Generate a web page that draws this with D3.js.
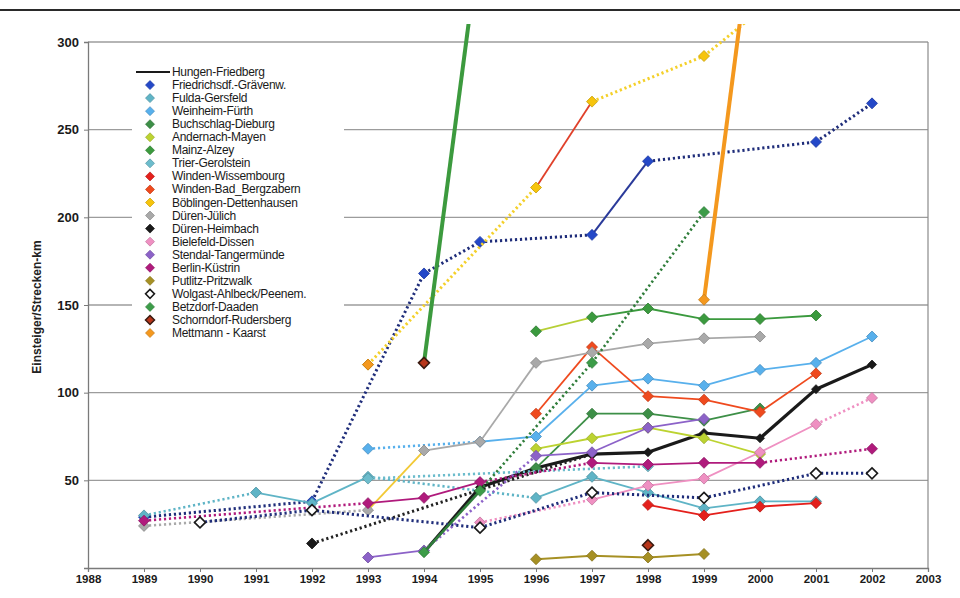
<!DOCTYPE html>
<html>
<head>
<meta charset="utf-8">
<script src="https://cdn.jsdelivr.net/npm/d3@7/dist/d3.min.js"></script>
<style>
  html, body { margin: 0; padding: 0; background: #fff; }
  svg { display: block; font-family: "Liberation Sans", Arial, sans-serif; }
</style>
</head>
<body>
<svg id="chart" width="960" height="598"></svg>
<script>
// Years on the x axis and the tick labels
const years = [1989, 1990, 1991, 1992, 1993, 1994, 1995, 1996, 1997, 1998, 1999, 2000, 2001, 2002];
const xTicks = [1988, 1989, 1990, 1991, 1992, 1993, 1994, 1995, 1996, 1997, 1998, 1999, 2000, 2001, 2002, 2003];
const yTicks = [50, 100, 150, 200, 250, 300];

// Boardings per route-km, one array per line (index = year, null = no value)
const n = null;
const hungenFriedberg      = [n, n, n, n, n, 9, 46, 57, 65, 66, 77, 74, 102, 116];
const friedrichsdorf       = [29, n, n, 38, n, 168, 186, n, 190, 232, n, n, 243, 265];
const fuldaGersfeld        = [30, n, 43, 37, 52, n, n, 40, 52, 43, 34, 38, 38, n];
const weinheimFuerth       = [n, n, n, n, 68, n, 72, 75, 104, 108, 104, 113, 117, 132];
const buchschlagDieburg    = [n, n, n, n, n, n, n, 57, 88, 88, 84, 91, n, n];
const andernachMayen       = [n, n, n, n, n, n, n, 68, 74, 80, 74, 65, n, n];
const mainzAlzey           = [n, n, n, n, n, n, n, 135, 143, 148, 142, 142, 144, n];
const trierGerolstein      = [n, n, n, n, 51, n, n, n, n, 58, n, n, n, n];
const windenWissembourg    = [n, n, n, n, n, n, n, n, n, 36, 30, 35, 37, n];
const windenBergzabern     = [n, n, n, n, n, n, n, 88, 126, 98, 96, 89, 111, n];
const boeblingen           = [n, n, n, n, 116, n, n, 217, 266, n, 292, 318, n, n];
const duerenJuelich        = [24, n, n, n, 33, 67, 72, 117, 123, 128, 131, 132, n, n];
const duerenHeimbach       = [n, n, n, 14, n, n, n, n, 65, n, n, n, n, n];
const bielefeldDissen      = [n, n, n, n, n, n, 26, n, 39, 47, 51, 66, 82, 97];
const stendalTangermuende  = [n, n, n, n, 6, 10, n, 64, 66, 80, 85, n, n, n];
const berlinKuestrin       = [27, n, n, n, 37, 40, 49, n, 60, 59, 60, 60, n, 68];
const putlitzPritzwalk     = [n, n, n, n, n, n, n, 5, 7, 6, 8, n, n, n];
const wolgastAhlbeck       = [n, 26, n, 33, n, n, 23, n, 43, n, 40, n, 54, 54];
const betzdorfDaaden       = [n, n, n, n, n, 9, 44, n, 117, n, 203, n, n, n];
const schorndorfRudersberg = [n, n, n, n, n, 117, 360, n, n, 13, n, n, n, n];
const mettmannKaarst       = [n, n, n, n, 116, n, n, n, n, n, 153, 400, n, n];

// Series table: name, values and drawing style
// bridge: gaps in the years are joined by a dotted line; seg: per-segment overrides keyed by start year
const series = [
  { name: "Hungen-Friedberg", values: hungenFriedberg, line: "#1a1a1a", width: 3.2, marker: "#1a1a1a", legendLine: true, bridge: true, r: 4.5 },
  { name: "Friedrichsdf.-Grävenw.", values: friedrichsdorf, line: "#1f2d7a", width: 3, dotted: true, marker: "#2448c8", bridge: true,
    seg: { 1997: { dotted: false, line: "#2a3a9a", width: 2 } } },
  { name: "Fulda-Gersfeld", values: fuldaGersfeld, line: "#5fb4c6", width: 1.8, marker: "#5fb4c6", bridge: true },
  { name: "Weinheim-Fürth", values: weinheimFuerth, line: "#58b0ec", width: 1.8, marker: "#58b0ec", bridge: true },
  { name: "Buchschlag-Dieburg", values: buchschlagDieburg, line: "#3d8f47", width: 1.8, marker: "#3d8f47", bridge: true },
  { name: "Andernach-Mayen", values: andernachMayen, line: "#bcd331", width: 1.8, marker: "#bcd331", bridge: true },
  { name: "Mainz-Alzey", values: mainzAlzey, line: "#3b9a3e", width: 1.8, marker: "#3b9a3e", bridge: true,
    seg: { 1996: { line: "#b6cf36" } } },
  { name: "Trier-Gerolstein", values: trierGerolstein, line: "#6cbccc", width: 2.6, dotted: true, marker: "#6cbccc", bridge: true },
  { name: "Winden-Wissembourg", values: windenWissembourg, line: "#e4201c", width: 1.8, marker: "#e4201c", bridge: true },
  { name: "Winden-Bad_Bergzabern", values: windenBergzabern, line: "#ef4a1e", width: 1.8, marker: "#ef4a1e", bridge: true },
  { name: "Böblingen-Dettenhausen", values: boeblingen, line: "#f4d02a", width: 3, dotted: true, marker: "#f6c40c", bridge: true,
    seg: { 1996: { dotted: false, line: "#e0402a", width: 1.8 } } },
  { name: "Düren-Jülich", values: duerenJuelich, line: "#a9a9a9", width: 1.8, marker: "#a9a9a9", bridge: true,
    seg: { 1993: { line: "#f2c935" } } },
  { name: "Düren-Heimbach", values: duerenHeimbach, line: "#222222", width: 3, dotted: true, marker: "#1a1a1a", bridge: true },
  { name: "Bielefeld-Dissen", values: bielefeldDissen, line: "#ef90c2", width: 1.8, marker: "#ef90c2", bridge: true,
    seg: { 2001: { dotted: true, width: 2.6 } } },
  { name: "Stendal-Tangermünde", values: stendalTangermuende, line: "#8c62c8", width: 1.8, marker: "#8c62c8", bridge: true },
  { name: "Berlin-Küstrin", values: berlinKuestrin, line: "#b01a7c", width: 1.8, marker: "#b01a7c", bridge: true },
  { name: "Putlitz-Pritzwalk", values: putlitzPritzwalk, line: "#a69024", width: 2, marker: "#a69024", bridge: true },
  { name: "Wolgast-Ahlbeck/Peenem.", values: wolgastAhlbeck, line: "#1f2d7a", width: 3, dotted: true, marker: "#ffffff", stroke: "#1a1a1a", bridge: true },
  { name: "Betzdorf-Daaden", values: betzdorfDaaden, line: "#2f7d3a", width: 2.6, dotted: true, marker: "#3c9c48", bridge: true,
    seg: { 1994: { dotted: false } } },
  { name: "Schorndorf-Rudersberg", values: schorndorfRudersberg, line: "#3c9a3e", width: 4, marker: "#b8361a", stroke: "#3a1a10", bridge: false },
  { name: "Mettmann - Kaarst", values: mettmannKaarst, line: "#f4981e", width: 4, marker: "#f4981e", bridge: false }
];

const svg = d3.select("#chart");
const margin = { left: 88, right: 32, top: 42, bottom: 30 };
const W = 960, H = 598;

const x = d3.scaleLinear().domain([1988, 2003]).range([margin.left, W - margin.right]);
const y = d3.scaleLinear().domain([0, 300]).range([H - margin.bottom, margin.top]);

// page rule at the top
svg.append("line")
  .attr("x1", 0).attr("x2", W).attr("y1", 10).attr("y2", 10)
  .attr("stroke", "#2a2a2a").attr("stroke-width", 2);

// horizontal gridlines
svg.append("g").selectAll("line").data(yTicks).join("line")
  .attr("x1", x(1988)).attr("x2", x(2003))
  .attr("y1", d => y(d)).attr("y2", d => y(d))
  .attr("stroke", "#9c9c9c").attr("stroke-width", 1.3);

// right frame edge
svg.append("line")
  .attr("x1", x(2003)).attr("x2", x(2003)).attr("y1", y(300)).attr("y2", y(0))
  .attr("stroke", "#8a8a8a").attr("stroke-width", 1.2);

// axes
const xAxis = svg.append("g")
  .attr("transform", `translate(0,${y(0)})`)
  .call(d3.axisBottom(x).tickValues(xTicks).tickFormat(d3.format("d")).tickSize(4).tickPadding(3));
const yAxis = svg.append("g")
  .attr("transform", `translate(${x(1988)},0)`)
  .call(d3.axisLeft(y).tickValues(yTicks).tickSize(4).tickPadding(5));
[xAxis, yAxis].forEach(g => {
  g.select(".domain").attr("stroke", "#7a7a7a").attr("stroke-width", 1.3);
  g.selectAll(".tick line").attr("stroke", "#7a7a7a");
  g.selectAll("text").attr("fill", "#1a1a1a").attr("font-weight", "bold")
    .attr("font-family", "'Liberation Sans', Arial, sans-serif");
});
xAxis.selectAll("text").attr("font-size", 11.5);
yAxis.selectAll("text").attr("font-size", 13);

svg.append("text")
  .attr("transform", `translate(41,${(y(0) + y(300)) / 2 + 2}) rotate(-90)`)
  .attr("text-anchor", "middle")
  .attr("font-size", 12).attr("font-weight", "bold").attr("fill", "#222")
  .text("Einsteiger/Strecken-km");

// legend backdrop hides the gridlines behind it
const legendX = 136, legendY = 72, legendStep = 13.05;
svg.append("rect")
  .attr("x", legendX - 4).attr("y", legendY - 12)
  .attr("width", 212).attr("height", legendStep * series.length + 12)
  .attr("fill", "#fff");

// plotting clip
svg.append("clipPath").attr("id", "plotClip")
  .append("rect").attr("x", x(1988)).attr("y", 24)
  .attr("width", x(2003) - x(1988)).attr("height", y(0) - 24);

const diamond = r => `M0,${-r}L${r},0L0,${r}L${-r},0Z`;
const dotDash = "2.2,2.8";

const plot = svg.append("g").attr("clip-path", "url(#plotClip)");

series.forEach(s => {
  const pts = years.map((yr, i) => ({ yr, v: s.values[i] })).filter(p => p.v !== null);
  const segs = [];
  for (let i = 0; i < pts.length - 1; i++) {
    const a = pts[i], b = pts[i + 1];
    const gap = b.yr - a.yr > 1;
    if (gap && !s.bridge) continue;
    const o = (s.seg && s.seg[a.yr]) || {};
    segs.push({
      a, b,
      line: o.line || s.line,
      width: o.width || s.width,
      dotted: o.dotted !== undefined ? o.dotted : (s.dotted || gap)
    });
  }
  const g = plot.append("g");
  g.selectAll("line").data(segs).join("line")
    .attr("x1", d => x(d.a.yr)).attr("y1", d => y(d.a.v))
    .attr("x2", d => x(d.b.yr)).attr("y2", d => y(d.b.v))
    .attr("stroke", d => d.line)
    .attr("stroke-width", d => d.dotted ? Math.max(d.width, 2.6) : d.width)
    .attr("stroke-dasharray", d => d.dotted ? dotDash : null)
    .attr("stroke-linecap", "butt");
  g.selectAll("path").data(pts).join("path")
    .attr("transform", d => `translate(${x(d.yr)},${y(d.v)})`)
    .attr("d", diamond(s.r || 5.5))
    .attr("fill", s.marker)
    .attr("stroke", s.stroke || d3.color(s.marker).darker(0.6))
    .attr("stroke-width", s.stroke ? 1.6 : 0.8);
});

// legend
const lg = svg.append("g");
series.forEach((s, i) => {
  const cy = legendY + i * legendStep;
  if (s.legendLine) {
    lg.append("line").attr("x1", legendX).attr("x2", legendX + 34)
      .attr("y1", cy).attr("y2", cy).attr("stroke", s.line).attr("stroke-width", 2);
  } else {
    lg.append("path").attr("transform", `translate(${legendX + 14},${cy})`)
      .attr("d", diamond(4.5))
      .attr("fill", s.marker)
      .attr("stroke", s.stroke || d3.color(s.marker).darker(0.6))
      .attr("stroke-width", s.stroke ? 1.5 : 0.7);
  }
  lg.append("text").attr("x", legendX + 36).attr("y", cy + 4)
    .attr("font-size", 12).attr("fill", "#1a1a1a")
    .attr("letter-spacing", -0.3)
    .text(s.name);
});
</script>
</body>
</html>
